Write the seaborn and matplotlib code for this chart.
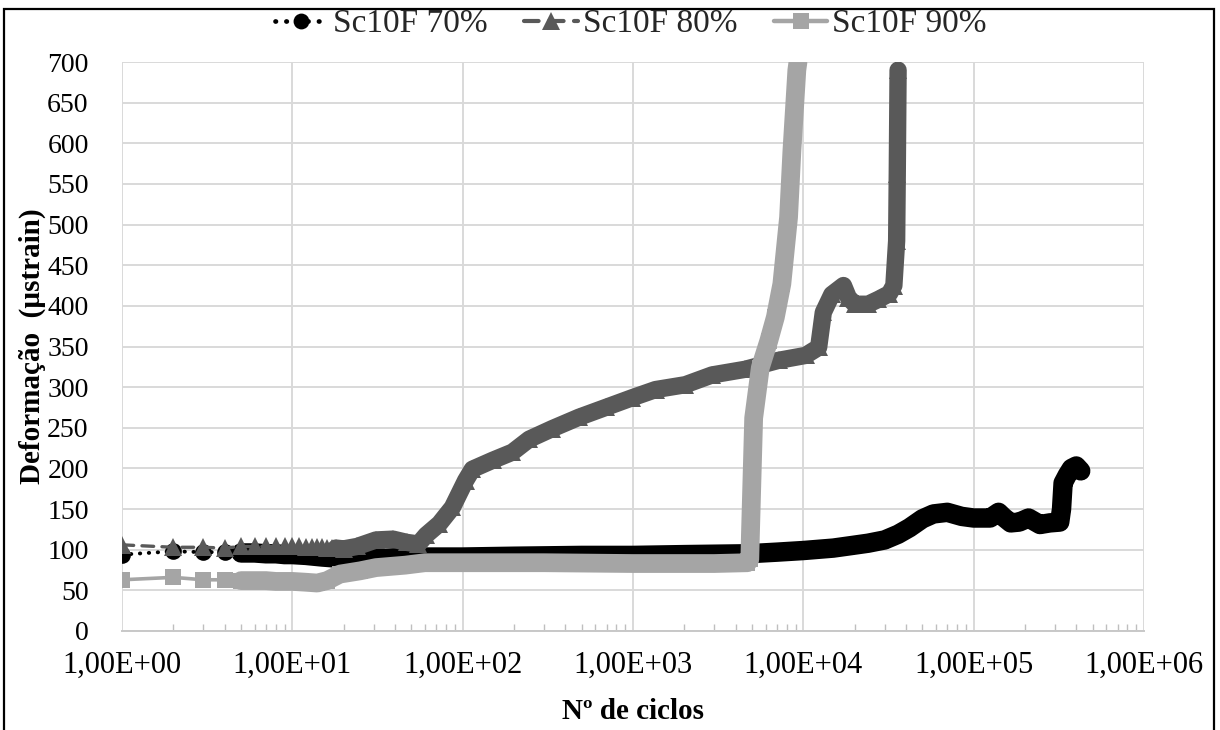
import matplotlib
matplotlib.use("Agg")
import matplotlib.pyplot as plt
import seaborn as sns
from matplotlib.lines import Line2D
from matplotlib.patches import Rectangle
from matplotlib.ticker import LogLocator, NullFormatter

# ---------------- data ----------------
series_names = ["Sc10F 70%", "Sc10F 80%", "Sc10F 90%"]

cycles_70 = [1, 2, 3, 4, 5, 6, 7, 8, 9, 10, 12, 15, 20, 25, 30, 40, 60, 100, 200,
             500, 1000, 2000, 4700, 7000, 10000, 15000, 19000, 24000, 30000, 36000,
             42000, 50000, 58000, 70000, 85000, 100000, 125000, 140000, 150000,
             165000, 185000, 210000, 245000, 280000, 320000, 328000, 335000,
             355000, 375000, 400000, 425000]
strain_70 = [94, 98, 97, 97, 96, 96, 95, 95, 94, 94, 93, 91, 89, 88, 89, 90, 91, 91, 92,
             93, 93, 94, 95, 97, 99, 102, 105, 108, 112, 119,
             127, 138, 144, 146, 141, 139, 139, 146, 140,
             133, 134, 139, 131, 133, 134, 150, 182,
             192, 200, 203, 197]

cycles_80 = [1, 2, 3, 4, 5, 6, 7, 8, 9, 10, 11, 12, 13, 14, 15, 16, 17, 18, 20, 24,
             31, 39, 47, 55, 61, 73, 87, 104, 114, 150, 196, 246, 336, 482, 691, 990,
             1356, 2030, 2910, 4570, 7160, 10300, 12300, 13100, 14700, 17200, 18400,
             20100, 24000, 27600, 32000, 34000, 35300, 35600, 36000]
strain_80 = [106, 103, 103, 102, 104, 104, 104, 104, 104, 104, 104, 103, 103, 103, 103,
             102, 102, 102, 101, 104, 112, 113, 109, 107, 118, 132, 152, 185, 199, 210,
             220, 236, 249, 263, 275, 287, 297, 303, 315, 322, 333, 339, 349, 392, 414,
             425, 410, 402, 402, 408, 415, 425, 480, 562, 690]

cycles_90 = [1, 2, 3, 4, 5, 6, 7, 8, 10, 12, 14, 16, 19, 25, 31, 46, 60, 100, 300, 1000,
             3000, 4700, 4850, 4890, 5110, 5590, 6270, 6850, 7480, 8190, 8570, 9160, 9300]
strain_90 = [63, 66, 63, 63, 62, 62, 62, 61, 61, 60, 59, 62, 70, 74, 78, 81, 84, 84, 84,
             83, 83, 84, 88, 118, 262, 324, 357, 386, 427, 509, 591, 690, 700]

x_tick_values = [1e0, 1e1, 1e2, 1e3, 1e4, 1e5, 1e6]
x_tick_labels = ["1,00E+00", "1,00E+01", "1,00E+02", "1,00E+03",
                 "1,00E+04", "1,00E+05", "1,00E+06"]
y_tick_values = [0, 50, 100, 150, 200, 250, 300, 350, 400, 450, 500, 550, 600, 650, 700]

x_label = "Nº de ciclos"
y_label = "Deformação  (µstrain)"

# ---------------- styling ----------------
colors = ["#000000", "#595959", "#A5A5A5"]
markers = ["o", "^", "s"]
marker_sizes = [12.0, 13.0, 12.0]
line_styles = [(0, (0.1, 2.2)), (0, (3.5, 2.5)), "-"]
line_widths = [2.8, 2.4, 2.6]
band_widths = [14.0, 12.5, 13.5]
band_start = [5, 18, 5]

sns.set_theme(style="white")
plt.rcParams["font.family"] = ["Liberation Serif", "DejaVu Serif"]

W, H = 1220, 730
fig = plt.figure(figsize=(W / 100, H / 100), dpi=100)
left, right, top, bottom = 122, 1144, 62, 631
ax = fig.add_axes([left / W, 1 - bottom / H, (right - left) / W, (bottom - top) / H])

all_data = [(cycles_70, strain_70), (cycles_80, strain_80), (cycles_90, strain_90)]
for i, (xs, ys) in enumerate(all_data):
    c = colors[i]
    z = 3 + i * 2
    bx = [x for x in xs if x >= band_start[i]]
    by = [y for x, y in zip(xs, ys) if x >= band_start[i]]
    # dense band formed by the many overlapping markers
    sns.lineplot(x=bx, y=by, ax=ax, color=c, linewidth=band_widths[i],
                 estimator=None, sort=False, legend=False, zorder=z,
                 solid_capstyle="round", solid_joinstyle="round")
    # individual points with the series line style
    sns.lineplot(x=xs, y=ys, ax=ax, color=c, linestyle=line_styles[i],
                 linewidth=line_widths[i], marker=markers[i], markersize=marker_sizes[i],
                 markeredgewidth=0, markeredgecolor=c, markerfacecolor=c,
                 estimator=None, sort=False, legend=False, zorder=z + 1,
                 dash_capstyle="round")

ax.set_xscale("log")
ax.set_xlim(1, 1e6)
ax.set_ylim(0, 700)
ax.set_xticks(x_tick_values)
ax.set_xticklabels(x_tick_labels)
ax.xaxis.set_minor_locator(LogLocator(base=10, subs=[2, 3, 4, 5, 6, 7, 8, 9]))
ax.xaxis.set_minor_formatter(NullFormatter())
ax.set_yticks(y_tick_values)

ax.grid(True, which="major", color="#D9D9D9", linewidth=1.4)
ax.set_axisbelow(True)
for s in ["top", "right", "left"]:
    ax.spines[s].set_visible(False)
ax.spines["bottom"].set_color("#C8C8C8")
ax.spines["bottom"].set_linewidth(1.4)

ax.tick_params(axis="x", which="major", length=0, pad=14, labelsize=22, colors="black")
ax.tick_params(axis="x", which="minor", direction="in", length=5, width=1,
               color="#BFBFBF", bottom=True)
ax.tick_params(axis="y", which="major", length=0, pad=24, labelsize=20, colors="black")

ax.set_xlabel(x_label, fontsize=21, fontweight="bold", color="black")
ax.xaxis.set_label_coords(0.5, -0.118)
ax.set_ylabel(y_label, fontsize=21, fontweight="bold", color="black")
ax.yaxis.set_label_coords(-0.074, 0.5)

handles = [Line2D([], [], color=colors[i], linestyle=line_styles[i],
                  linewidth=line_widths[i] + 0.6,
                  marker=markers[i], markersize=marker_sizes[i] * 0.95,
                  markeredgewidth=0, dash_capstyle="round")
           for i in range(3)]
fig.legend(handles, series_names, loc="center", bbox_to_anchor=(0.517, 0.967),
           ncol=3, frameon=False, fontsize=24, handlelength=1.6,
           columnspacing=1.1, handletextpad=0.15)

fig.add_artist(Rectangle((4 / W, -0.02), (1214 - 4) / W, 1.02 - 9 / H,
                         transform=fig.transFigure, fill=False,
                         edgecolor="black", linewidth=1.6))

fig.savefig("out.png", dpi=100)
